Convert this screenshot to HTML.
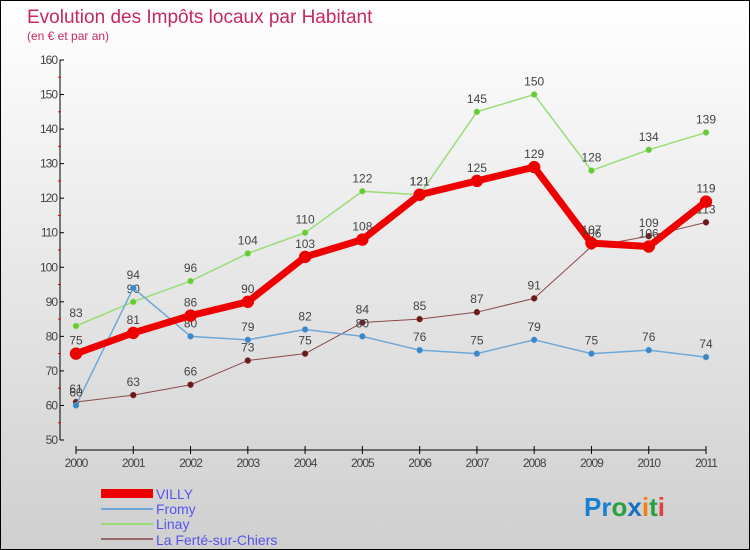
<!DOCTYPE html>
<html><head><meta charset="utf-8"><style>
body{margin:0}
#c{width:750px;height:550px;position:relative;box-sizing:border-box;border:1px solid #000;background:linear-gradient(#ffffff,#cfcfcf);font-family:"Liberation Sans",sans-serif;overflow:hidden}
</style></head><body>
<div id="c">
<svg id="s" width="748" height="548" xmlns="http://www.w3.org/2000/svg">
<text x="26" y="22" font-size="19" fill="#c8285a">Evolution des Impôts locaux par Habitant</text>
<text x="26" y="39" font-size="12" fill="#c8285a">(en € et par an)</text>
<g id="axes"></g><g id="series"></g>
<g>
<rect x="100" y="488" width="52" height="9" fill="#e00"/>
<text x="155" y="498" font-size="14" fill="#5555ee">VILLY</text>
<line x1="100" y1="508" x2="152" y2="508" stroke="#6fa8d6" stroke-width="2"/>
<text x="155" y="513" font-size="14" fill="#5555ee">Fromy</text>
<line x1="100" y1="523" x2="152" y2="523" stroke="#99dd77" stroke-width="2"/>
<text x="155" y="528" font-size="14" fill="#5555ee">Linay</text>
<line x1="100" y1="538" x2="152" y2="538" stroke="#9a6a6a" stroke-width="2"/>
<text x="155" y="544" font-size="14" fill="#5555ee">La Ferté-sur-Chiers</text>
</g>
<text x="583" y="515" font-size="26" font-weight="bold"><tspan fill="#1a7fd0">Pr</tspan><tspan fill="#2aa040">o</tspan><tspan fill="#1a6fc0">x</tspan><tspan fill="#f08010">i</tspan><tspan fill="#2aa040">t</tspan><tspan fill="#e04040">i</tspan></text>
</svg>
</div>
<script>
const years=["2000","2001","2002","2003","2004","2005","2006","2007","2008","2009","2010","2011"];
const yTicks=[50,60,70,80,90,100,110,120,130,140,150,160];
const villy=[75,81,86,90,103,108,121,125,129,107,106,119];
const fromy=[60,94,80,79,82,80,76,75,79,75,76,74];
const linay=[83,90,96,104,110,122,121,145,150,128,134,139];
const laferte=[61,63,66,73,75,84,85,87,91,106,109,113];
const NS="http://www.w3.org/2000/svg";
const xS=i=>75+i*(630/11);
const yS=v=>59+(160-v)*(380/110);
function mk(t,a,p){const e=document.createElementNS(NS,t);for(const k in a)e.setAttribute(k,a[k]);p.appendChild(e);return e;}
const ax=document.getElementById('axes');
const yl=mk('line',{x1:59,y1:yS(160),x2:59,y2:yS(50),stroke:'#000'},ax);


yTicks.forEach((v,i)=>{
 mk('line',{x1:59,y1:yS(v),x2:63,y2:yS(v),stroke:'#000'},ax);
 if(i<yTicks.length-1) mk('line',{x1:57,y1:yS(v+5),x2:60,y2:yS(v+5),stroke:'#e00'},ax);
 const t=mk('text',{x:56,y:yS(v)+4,'font-size':12,fill:'#444','text-anchor':'end','letter-spacing':'-1'},ax);
 t.textContent=v;
 
 
});
const xl=mk('line',{x1:xS(0),y1:449,x2:xS(11),y2:449,stroke:'#000'},ax);


years.forEach((y,i)=>{
 mk('line',{x1:xS(i),y1:445,x2:xS(i),y2:453,stroke:'#000'},ax);
 const t=mk('text',{x:xS(i),y:466,'font-size':12,fill:'#444','text-anchor':'middle','letter-spacing':'-1'},ax);
 t.textContent=y;
 
 
});
const sg=document.getElementById('series');
function draw(vals,name,color,w,r,dot){
 const g=mk('g',{},sg);
 
 
 mk('polyline',{points:vals.map((v,i)=>xS(i)+','+yS(v)).join(' '),fill:'none',stroke:color,'stroke-width':w,'stroke-linejoin':'round'},g);
 vals.forEach((v,i)=>{
  const c=mk('circle',{cx:xS(i),cy:yS(v),r:r,fill:dot,stroke:color,'stroke-width':0.5},g);
  
  
  const t=mk('text',{x:xS(i),y:yS(v)-9,'font-size':12,fill:'#444','text-anchor':'middle'},g);
  t.textContent=v;
  
  
 });
}
draw(laferte,'laferte','#8a4a4a',1,3,'#6a1a1a');
draw(linay,'linay','#99dd77',1.5,3,'#66cc33');
draw(fromy,'fromy','#6fa8d6',1.5,3,'#3a88c8');
draw(villy,'villy','#ee0000',7,6,'#ee0000');
</script>
</body></html>
